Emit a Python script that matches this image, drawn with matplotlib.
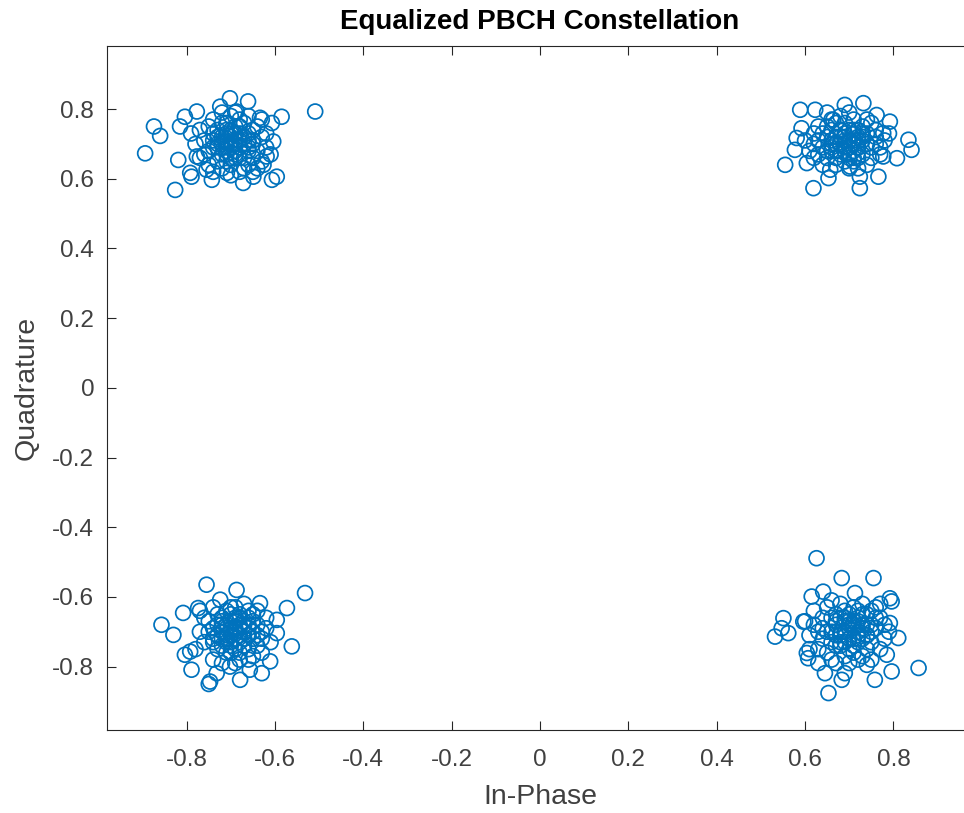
import matplotlib
matplotlib.use("Agg")
import matplotlib.pyplot as plt
import numpy as np

plt.rcParams['font.family'] = ['Liberation Sans', 'DejaVu Sans']
plt.rcParams['axes.unicode_minus'] = False

# ---- data ----
# top-left cluster
tl_i = [-0.894, -0.874, -0.860, -0.826, -0.819, -0.789, -0.792, -0.777, -0.509, -0.702,
        -0.661, -0.585, -0.607, -0.604, -0.596, -0.607, -0.672, -0.743, -0.804, -0.777,
        -0.815, -0.724, -0.687, -0.634, -0.619, -0.626, -0.649, -0.709, -0.755,
        -0.72, -0.70, -0.68, -0.74, -0.66, -0.71, -0.69, -0.75, -0.65, -0.73,
        -0.67, -0.70, -0.64, -0.76, -0.68, -0.72, -0.66, -0.70, -0.74, -0.63,
        -0.69, -0.71, -0.67, -0.77, -0.65, -0.73, -0.68, -0.62, -0.75, -0.70,
        -0.66, -0.72, -0.64, -0.78, -0.69, -0.71, -0.67, -0.73, -0.63, -0.76,
        -0.68, -0.70, -0.65, -0.74, -0.62, -0.79, -0.72, -0.66, -0.69, -0.64,
        -0.75, -0.71, -0.67, -0.73, -0.61, -0.70, -0.68, -0.77, -0.66, -0.72,
        -0.63, -0.69, -0.74, -0.65, -0.71]
tl_q = [0.673, 0.750, 0.723, 0.568, 0.654, 0.606, 0.617, 0.664, 0.793, 0.831,
        0.822, 0.778, 0.760, 0.707, 0.606, 0.597, 0.588, 0.597, 0.778, 0.793,
        0.750, 0.807, 0.793, 0.775, 0.664, 0.640, 0.606, 0.617, 0.626,
        0.70, 0.72, 0.69, 0.73, 0.71, 0.67, 0.75, 0.68, 0.74, 0.65,
        0.66, 0.78, 0.68, 0.71, 0.73, 0.76, 0.64, 0.64, 0.77, 0.72,
        0.70, 0.73, 0.76, 0.74, 0.66, 0.69, 0.62, 0.69, 0.64, 0.69,
        0.78, 0.63, 0.75, 0.70, 0.66, 0.71, 0.72, 0.74, 0.65, 0.67,
        0.77, 0.61, 0.70, 0.71, 0.73, 0.73, 0.67, 0.68, 0.79, 0.63,
        0.75, 0.76, 0.63, 0.72, 0.67, 0.74, 0.71, 0.66, 0.73, 0.79,
        0.77, 0.68, 0.62, 0.62, 0.69]
tl_core_i = [-0.70, -0.69, -0.71, -0.68, -0.72, -0.67, -0.70, -0.69, -0.71, -0.68,
             -0.73, -0.66, -0.70, -0.72, -0.68, -0.69, -0.71, -0.67, -0.74, -0.65]
tl_core_q = [0.70, 0.71, 0.68, 0.69, 0.72, 0.70, 0.73, 0.67, 0.74, 0.66,
             0.70, 0.69, 0.66, 0.71, 0.75, 0.73, 0.65, 0.72, 0.69, 0.71]

# top-right cluster
tr_i = [0.555, 0.619, 0.589, 0.623, 0.690, 0.732, 0.762, 0.792, 0.834, 0.841,
        0.808, 0.766, 0.724, 0.724, 0.653, 0.657, 0.577, 0.581, 0.592, 0.664,
        0.777, 0.777, 0.702, 0.604,
        0.62, 0.64, 0.66, 0.68, 0.70, 0.72, 0.74, 0.76, 0.65, 0.67,
        0.69, 0.71, 0.73, 0.75, 0.63, 0.61, 0.66, 0.68, 0.70, 0.72,
        0.74, 0.77, 0.64, 0.67, 0.69, 0.71, 0.73, 0.75, 0.62, 0.65,
        0.68, 0.70, 0.72, 0.76, 0.78, 0.63, 0.66, 0.69, 0.71, 0.74,
        0.60, 0.67, 0.70, 0.73, 0.75, 0.64, 0.68, 0.72, 0.77, 0.65,
        0.69, 0.71, 0.74, 0.62, 0.66, 0.70, 0.76, 0.67, 0.73, 0.63,
        0.79, 0.68, 0.71, 0.65, 0.72]
tr_q = [0.640, 0.573, 0.798, 0.798, 0.812, 0.817, 0.783, 0.764, 0.712, 0.683,
        0.659, 0.606, 0.573, 0.606, 0.602, 0.626, 0.683, 0.717, 0.745, 0.769,
        0.731, 0.664, 0.635, 0.645,
        0.70, 0.73, 0.68, 0.72, 0.69, 0.74, 0.70, 0.72, 0.66, 0.76,
        0.65, 0.71, 0.67, 0.76, 0.75, 0.68, 0.71, 0.78, 0.74, 0.66,
        0.73, 0.69, 0.64, 0.70, 0.72, 0.77, 0.71, 0.66, 0.73, 0.79,
        0.67, 0.63, 0.69, 0.74, 0.71, 0.67, 0.74, 0.69, 0.66, 0.77,
        0.71, 0.64, 0.79, 0.73, 0.69, 0.69, 0.74, 0.72, 0.67, 0.72,
        0.76, 0.68, 0.64, 0.66, 0.77, 0.71, 0.70, 0.68, 0.75, 0.71,
        0.73, 0.70, 0.73, 0.75, 0.63]
tr_core_i = [0.68, 0.70, 0.69, 0.71, 0.67, 0.72, 0.66, 0.70, 0.68, 0.73,
             0.69, 0.71, 0.65, 0.74, 0.70, 0.67, 0.72, 0.69, 0.66, 0.71]
tr_core_q = [0.70, 0.71, 0.68, 0.70, 0.72, 0.69, 0.70, 0.66, 0.74, 0.72,
             0.73, 0.74, 0.68, 0.70, 0.67, 0.66, 0.71, 0.71, 0.69, 0.65]

# bottom-left cluster
bl_i = [-0.857, -0.755, -0.687, -0.532, -0.573, -0.596, -0.596, -0.562, -0.611, -0.630,
        -0.679, -0.747, -0.789, -0.804, -0.830, -0.808, -0.724, -0.634, -0.774, -0.732,
        -0.657, -0.702, -0.792, -0.750,
        -0.70, -0.68, -0.72, -0.66, -0.74, -0.69, -0.67, -0.71, -0.73, -0.65,
        -0.76, -0.63, -0.70, -0.68, -0.72, -0.64, -0.75, -0.66, -0.69, -0.71,
        -0.77, -0.62, -0.67, -0.73, -0.65, -0.70, -0.68, -0.74, -0.66, -0.72,
        -0.64, -0.69, -0.76, -0.71, -0.63, -0.67, -0.70, -0.73, -0.65, -0.78,
        -0.68, -0.62, -0.71, -0.66, -0.74, -0.69, -0.67, -0.72, -0.64, -0.70,
        -0.75, -0.61, -0.68, -0.73, -0.66, -0.69, -0.77, -0.65, -0.71, -0.63,
        -0.74, -0.67, -0.70, -0.72, -0.64]
bl_q = [-0.680, -0.565, -0.580, -0.589, -0.632, -0.666, -0.704, -0.742, -0.785, -0.819,
        -0.838, -0.843, -0.809, -0.766, -0.709, -0.646, -0.608, -0.618, -0.632, -0.819,
        -0.809, -0.800, -0.757, -0.850,
        -0.70, -0.68, -0.72, -0.71, -0.69, -0.66, -0.74, -0.76, -0.65, -0.67,
        -0.73, -0.70, -0.63, -0.78, -0.68, -0.74, -0.67, -0.64, -0.72, -0.69,
        -0.70, -0.66, -0.70, -0.75, -0.77, -0.67, -0.73, -0.63, -0.68, -0.79,
        -0.64, -0.69, -0.66, -0.73, -0.72, -0.62, -0.76, -0.71, -0.70, -0.75,
        -0.65, -0.69, -0.64, -0.75, -0.72, -0.79, -0.67, -0.66, -0.68, -0.73,
        -0.70, -0.73, -0.71, -0.68, -0.78, -0.63, -0.64, -0.65, -0.71, -0.76,
        -0.78, -0.72, -0.65, -0.74, -0.71]
bl_core_i = [-0.69, -0.70, -0.68, -0.71, -0.67, -0.72, -0.69, -0.70, -0.66, -0.73,
             -0.68, -0.71, -0.65, -0.69, -0.72, -0.67, -0.70, -0.74, -0.68, -0.66]
bl_core_q = [-0.70, -0.71, -0.69, -0.68, -0.72, -0.70, -0.67, -0.74, -0.69, -0.71,
             -0.66, -0.72, -0.72, -0.75, -0.67, -0.68, -0.69, -0.73, -0.76, -0.66]

# bottom-right cluster
br_i = [0.626, 0.683, 0.755, 0.857, 0.653, 0.532, 0.551, 0.562, 0.547, 0.596,
        0.615, 0.641, 0.713, 0.792, 0.796, 0.811, 0.796, 0.758, 0.683, 0.645,
        0.607, 0.604, 0.690, 0.740, 0.785, 0.792,
        0.62, 0.64, 0.66, 0.68, 0.70, 0.72, 0.74, 0.76, 0.78, 0.63,
        0.65, 0.67, 0.69, 0.71, 0.73, 0.75, 0.77, 0.61, 0.64, 0.66,
        0.68, 0.70, 0.72, 0.74, 0.76, 0.62, 0.65, 0.67, 0.69, 0.71,
        0.73, 0.75, 0.78, 0.63, 0.66, 0.68, 0.70, 0.72, 0.74, 0.77,
        0.64, 0.69, 0.71, 0.73, 0.76, 0.61, 0.67, 0.70, 0.75, 0.79,
        0.65, 0.68, 0.72, 0.74, 0.66, 0.63, 0.71, 0.77, 0.69, 0.73,
        0.60, 0.75, 0.67, 0.70, 0.72]
br_q = [-0.489, -0.546, -0.546, -0.804, -0.876, -0.714, -0.661, -0.704, -0.690, -0.671,
        -0.599, -0.585, -0.589, -0.604, -0.613, -0.718, -0.814, -0.838, -0.838, -0.819,
        -0.776, -0.761, -0.819, -0.795, -0.766, -0.675,
        -0.68, -0.72, -0.66, -0.70, -0.67, -0.71, -0.65, -0.69, -0.72, -0.75,
        -0.63, -0.74, -0.64, -0.76, -0.68, -0.73, -0.66, -0.71, -0.66, -0.78,
        -0.62, -0.72, -0.64, -0.75, -0.63, -0.64, -0.70, -0.67, -0.77, -0.69,
        -0.62, -0.70, -0.68, -0.79, -0.73, -0.66, -0.79, -0.67, -0.71, -0.75,
        -0.69, -0.70, -0.63, -0.77, -0.66, -0.75, -0.71, -0.65, -0.78, -0.70,
        -0.76, -0.74, -0.73, -0.68, -0.61, -0.70, -0.72, -0.62, -0.67, -0.65,
        -0.67, -0.64, -0.79, -0.68, -0.78]
br_core_i = [0.70, 0.69, 0.71, 0.68, 0.72, 0.67, 0.70, 0.73, 0.69, 0.71,
             0.66, 0.74, 0.68, 0.72, 0.70, 0.67, 0.73, 0.69, 0.75, 0.71]
br_core_q = [-0.69, -0.70, -0.68, -0.71, -0.70, -0.68, -0.72, -0.69, -0.66, -0.74,
             -0.70, -0.71, -0.73, -0.66, -0.75, -0.65, -0.72, -0.73, -0.68, -0.67]

ticks = [-0.8, -0.6, -0.4, -0.2, 0, 0.2, 0.4, 0.6, 0.8]
tick_labels = ['-0.8', '-0.6', '-0.4', '-0.2', '0', '0.2', '0.4', '0.6', '0.8']

# ---- figure ----
fig = plt.figure(figsize=(9.64, 8.13), dpi=100)
ax = fig.add_axes([0.1107, 0.1021, 0.899, 0.8413])

blue = '#0072BD'
all_i = np.array(tl_i + tl_core_i + tr_i + tr_core_i + bl_i + bl_core_i + br_i + br_core_i)
all_q = np.array(tl_q + tl_core_q + tr_q + tr_core_q + bl_q + bl_core_q + br_q + br_core_q)
ax.scatter(all_i, all_q, s=115, facecolors='none', edgecolors=blue, linewidths=1.25)

ax.set_xlim(-0.981, 0.981)
ax.set_ylim(-0.982, 0.981)
ax.set_xticks(ticks)
ax.set_xticklabels(tick_labels)
ax.set_yticks(ticks)
ax.set_yticklabels(tick_labels)

axcol = '#262626'
for sp in ax.spines.values():
    sp.set_color(axcol)
    sp.set_linewidth(0.8)
ax.tick_params(axis='both', direction='in', length=6.5, width=0.8, colors=axcol,
               labelcolor='#404040', labelsize=17.5, top=True, right=True)
ax.tick_params(axis='x', pad=14)
ax.tick_params(axis='y', pad=9)

ax.set_title('Equalized PBCH Constellation', fontsize=20, fontweight='bold',
             color='black', pad=12)
ax.set_xlabel('In-Phase', fontsize=20.5, color='#404040', labelpad=9)
ax.set_ylabel('Quadrature', fontsize=20.5, color='#404040', labelpad=9)

fig.savefig('out.png', dpi=100)
